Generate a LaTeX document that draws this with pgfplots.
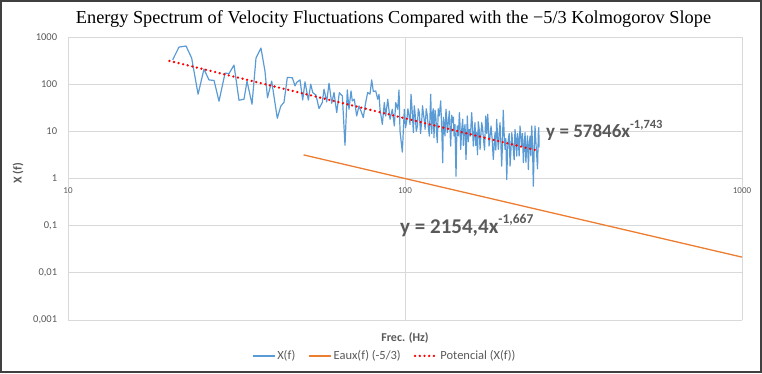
\documentclass[border=0pt]{standalone}
\usepackage{fontspec}
\setmainfont{Carlito}
\newfontfamily\titlefont{Liberation Serif}
\usepackage{pgfplots}
\pgfplotsset{compat=1.18}

\definecolor{xfblue}{HTML}{5B9BD5}
\definecolor{eauxorange}{HTML}{ED7D31}
\definecolor{trendred}{HTML}{FF0000}
\definecolor{textgray}{HTML}{595959}
\definecolor{gridgray}{HTML}{D9D9D9}
\definecolor{framegray}{HTML}{404040}

\begin{document}
\begin{tikzpicture}
\begin{axis}[
  scale only axis,
  width=674pt, height=283pt,
  xmode=log, ymode=log,
  xmin=10, xmax=1000, ymin=0.001, ymax=1000,
  axis line style={draw=none},
  major tick length=0pt, minor tick length=0pt,
  grid=major,
  major grid style={draw=gridgray, line width=0.9pt},
  xtick={10,100,1000},
  xticklabels={10,100,1000},
  ytick={0.001,0.01,0.1,1,10,100,1000},
  yticklabels={{0,001},{0,01},{0,1},1,10,100,1000},
  xticklabel style={font=\fontsize{9}{9}\selectfont, text=textgray,
    inner sep=0pt, anchor=north, yshift=132.7pt},
  yticklabel style={font=\fontsize{10.5}{10.5}\selectfont, text=textgray,
    inner sep=0pt, anchor=east, xshift=-10.7pt},
  xlabel={Frec. (Hz)},
  ylabel={X (f)},
  x label style={at={(axis description cs:0.5,-0.064)}, anchor=center,
    font=\bfseries\fontsize{12}{12}\selectfont, text=textgray},
  y label style={at={(axis description cs:-0.0742,0.519)}, anchor=center,
    font=\bfseries\fontsize{12}{12}\selectfont, text=textgray},
  legend columns=3,
  legend style={at={(axis description cs:0.4700,-0.127)}, anchor=center,
    draw=none, fill=none, inner sep=0pt,
    font=\fontsize{12.5}{12.5}\selectfont, text=textgray,
    /tikz/every even column/.append style={column sep=11pt}},
  legend image code/.code={\draw[#1] (0pt,0pt) -- (22pt,0pt);},
]

% measured spectrum
\addplot[xfblue, line width=1.2pt, line join=round] coordinates {
(20.45,329) (21.35,612) (22.40,644) (23.28,357) (24.32,61.3) (25.32,208)
(26.20,123) (27.12,120) (28.06,43.5) (29.24,171) (30.05,168) (31.09,254)
(32.17,45.7) (33.29,48) (33.98,116) (35.16,37.5) (36.13,357) (37.38,583)
(38.42,189) (39.08,51.6) (40.22,116) (41.79,18.9) (42.78,34) (43.75,41.4)
(44.75,139) (46.30,137) (47.16,92) (47.71,109) (48.80,123) (49.71,46.3)
(50.50,112) (51.66,46) (52.51,100) (53.23,66.6) (54.44,58.3) (55.57,30.4)
(56.83,40.8) (57.50,78.3) (58.57,42) (59.50,105) (60.61,39.4) (61.57,66.6)
(62.72,25) (63.85,66) (65.17,56.4) (66.37,5.04) (67.42,75.6) (68.20,29.4)
(69.15,72) (69.76,44.2) (70.73,48) (71.89,21.2) (73.02,34.5) (74.03,27)
(75.21,19.6) (76.45,40.8) (77.50,66.6) (78.74,61.3) (79.65,123) (80.54,70)
(81.87,72) (82.99,48) (83.74,61) (84.30,29.4) (85.65,14.1) (86.82,40.8)
(87.65,21.2) (88.87,48) (90.27,18) (91.70,29.4) (92.97,13) (93.85,40.8)
(95.15,29.4) (95.98,75.6) (96.65,10.1) (98.18,3.63) (99.54,29.4) (100.4,12)
(101.2,16.6) (102.0,30) (102.8,21.2) (103.5,14) (104.2,61.3) (105.0,28)
(105.9,9.38) (106.5,35) (107.1,25) (108.0,10) (108.8,13) (109.5,30)
(110.3,25) (111.2,9) (112.1,16.6) (112.7,35) (113.3,25) (114.0,18)
(114.7,11) (115.6,30) (116.5,21.2) (117.3,12) (118.1,7.94) (119.2,61.3)
(120.0,9) (120.8,25) (121.3,30) (121.9,7.34) (122.8,28) (123.6,18)
(124.1,9) (124.7,5.75) (125.5,30) (126.4,21.2) (127.6,44.2) (128.5,12)
(129.4,2.16) (130.0,20) (130.5,15.3) (131.4,8) (132.3,29.4) (132.9,20)
(133.5,9.38) (134.5,16) (135.4,27) (136.0,11) (136.6,4.87) (137.6,22)
(138.6,15.3) (139.2,20) (139.8,7.94) (140.7,14) (141.7,1.12) (142.3,6)
(143.0,13) (144.0,8) (145.0,25) (145.6,14) (146.3,4.14) (147.3,11)
(148.4,18) (149.0,5) (149.7,9.38) (150.7,14) (151.7,2.54) (152.4,7)
(153.1,21.2) (154.1,6) (155.1,11) (156.4,8) (157.7,25) (158.6,12)
(159.5,4.87) (160.4,9) (161.3,15.3) (162.2,5) (163.2,9.38) (164.1,3.2)
(165.0,16) (166.0,11) (167.0,4.14) (167.9,8) (168.9,15.3) (169.8,12)
(170.8,7.34) (172.2,4) (173.6,21.2) (174.8,9) (176.0,23) (176.8,12)
(177.6,4.87) (178.8,8) (180.0,13) (181.4,7) (182.8,2.54) (183.9,5)
(185.0,9.38) (186.0,4) (187.1,18) (188.1,9) (189.2,4.14) (190.3,8)
(191.4,15.3) (192.5,6) (193.6,1.83) (194.6,5) (195.7,28) (196.9,9)
(198.1,4.14) (199.2,7) (200.4,0.95) (201.5,4) (202.6,6.76) (203.8,9)
(205.0,1.83) (206.2,4) (207.4,9.38) (208.5,6) (209.6,4.14) (210.8,2.5)
(212.0,11) (213.2,7) (214.5,2.98) (215.7,9) (216.9,6.76) (218.1,3)
(219.4,13) (220.7,8) (222.0,4.87) (223.2,9) (224.5,2.16) (225.8,5)
(227.1,9.38) (228.4,2.2) (229.7,4.87) (231.0,8) (232.3,1.55) (233.6,5)
(235.0,7.94) (236.3,3) (237.7,13) (239.0,5) (240.3,0.686) (241.7,4)
(243.1,13) (244.5,6) (246.0,2.98) (247.3,1.6) (248.7,9.38) (249.4,12)
(250.0,4.57)
};
\addlegendentry{X(f)}

% reference -5/3 law, y = 2154.4 x^-1.667
\addplot[eauxorange, line width=1.3pt] coordinates {
(50,3.168) (1000,0.02154)
};
\addlegendentry{Eaux(f) (-5/3)}

% power-law fit, y = 57846 x^-1.743
\addplot[trendred, line width=2.6pt, line cap=round,
  dash pattern=on 0pt off 4.7pt] coordinates {
(20,311.6) (250,3.83)
};
\addlegendentry{Potencial (X(f))}

\node[anchor=base west, text=textgray, inner sep=0pt,
  font=\bfseries\fontsize{19}{19}\selectfont]
  at (axis description cs:0.7092,0.6449)
  {y = 57846x\raisebox{0.45em}{\fontsize{12.5}{12.5}\selectfont -1,743}};
\node[anchor=base west, text=textgray, inner sep=0pt,
  font=\bfseries\fontsize{21}{21}\selectfont]
  at (axis description cs:0.4926,0.3074)
  {y = 2154,4x\raisebox{0.45em}{\fontsize{13.5}{13.5}\selectfont -1,667}};
\end{axis}

% chart title and outer frame
\node[anchor=base, inner sep=0pt, text=black,
  font=\titlefont\fontsize{18.3}{18.3}\selectfont]
  at (325.5pt,296pt)
  {Energy Spectrum of Velocity Fluctuations Compared with the −5/3 Kolmogorov Slope};
\draw[framegray, line width=2pt] (-67pt,-52pt) rectangle (693pt,319pt);
\pgfresetboundingbox
\useasboundingbox (-68pt,-53pt) rectangle (694pt,320pt);
\end{tikzpicture}
\end{document}
